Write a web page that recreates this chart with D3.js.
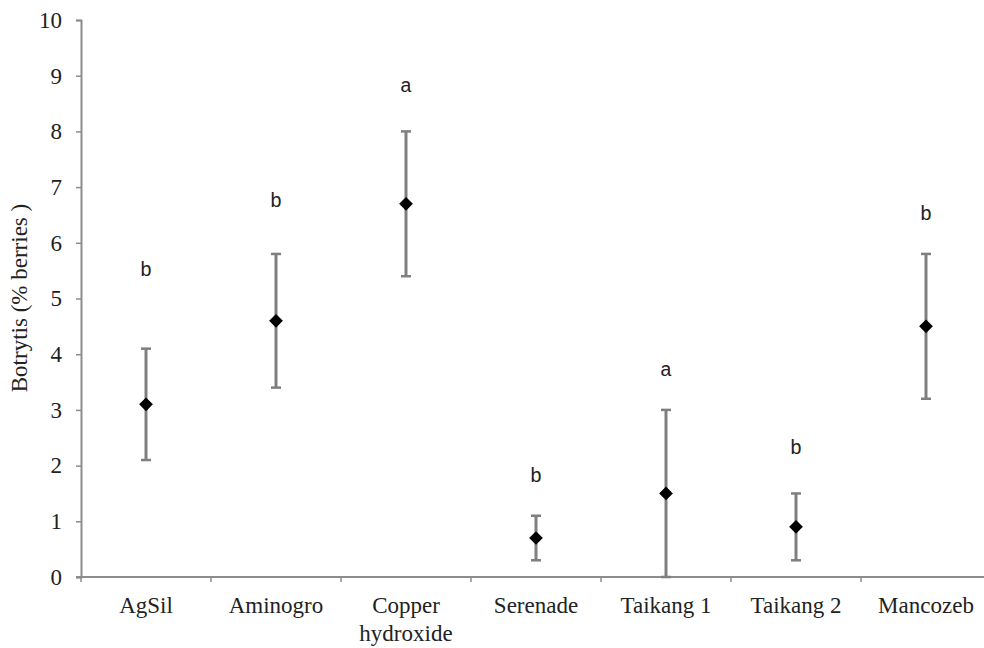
<!DOCTYPE html>
<html>
<head>
<meta charset="utf-8">
<script src="https://cdn.jsdelivr.net/npm/d3@7"></script>
<style>
  body { margin: 0; background: #fff; }
  svg text { font-family: "Liberation Serif", "Times New Roman", serif; fill: #222; }
</style>
</head>
<body>
<svg id="chart" width="984" height="648"></svg>
<script>
// treatments and their botrytis incidence (% berries)
var treatments = ["AgSil", "Aminogro", "Copper hydroxide", "Serenade", "Taikang 1", "Taikang 2", "Mancozeb"];
var means = [3.1, 4.6, 6.7, 0.7, 1.5, 0.9, 4.5];
var errors = [1.0, 1.2, 1.3, 0.4, 1.5, 0.6, 1.3];
var letters = ["b", "b", "a", "b", "a", "b", "b"];
var letterPos = [5.5, 6.75, 8.8, 1.8, 3.7, 2.3, 6.5];
var yTicks = [0, 1, 2, 3, 4, 5, 6, 7, 8, 9, 10];

var svg = d3.select("#chart");
var margin = {left: 81, top: 20, bottom: 577};
var bandW = 130;
var fs = 23;

var x = d3.scaleBand()
  .domain(treatments)
  .range([margin.left, margin.left + bandW * treatments.length])
  .padding(0);

var y = d3.scaleLinear()
  .domain([0, 10])
  .range([margin.bottom, margin.top]);

var axisColor = "#8c8c8c";

// y axis
var yAxis = svg.append("g")
  .attr("transform", "translate(" + margin.left + ",0)")
  .call(d3.axisLeft(y).tickValues(yTicks).tickSize(5).tickPadding(14).tickFormat(d3.format("d")));
yAxis.select(".domain").attr("stroke", axisColor).attr("stroke-width", 2);
yAxis.selectAll(".tick line").attr("stroke", axisColor).attr("stroke-width", 1.5);
yAxis.selectAll(".tick text")
  .attr("font-size", fs)
  .attr("fill", "#222")
  .style("font-family", "Liberation Serif");

// x axis line, runs to the edge
svg.append("line")
  .attr("x1", margin.left - 5).attr("x2", 984)
  .attr("y1", y(0)).attr("y2", y(0))
  .attr("stroke", axisColor).attr("stroke-width", 2);

// category tick marks at band boundaries
svg.selectAll(".xtick")
  .data(treatments)
  .enter().append("line")
  .attr("class", "xtick")
  .attr("x1", function (d) { return x(d); })
  .attr("x2", function (d) { return x(d); })
  .attr("y1", y(0)).attr("y2", y(0) + 5)
  .attr("stroke", axisColor).attr("stroke-width", 1.5);

// category labels (split only the two-word name)
var labels = svg.selectAll(".xlab")
  .data(treatments)
  .enter().append("text")
  .attr("class", "xlab")
  .attr("text-anchor", "middle")
  .attr("font-size", fs)
  .attr("x", function (d) { return x(d) + x.bandwidth() / 2; })
  .attr("y", 613);
labels.each(function (d) {
  var t = d3.select(this);
  var parts = d === "Copper hydroxide" ? ["Copper", "hydroxide"] : [d];
  parts.forEach(function (p, i) {
    t.append("tspan")
      .attr("x", x(d) + x.bandwidth() / 2)
      .attr("dy", i === 0 ? 0 : 28)
      .text(p);
  });
});

// y axis title
svg.append("text")
  .attr("transform", "translate(27,298) rotate(-90)")
  .attr("text-anchor", "middle")
  .attr("font-size", fs)
  .text("Botrytis (% berries )");

var errColor = "#7f7f7f";
var cx = function (i) { return x(treatments[i]) + x.bandwidth() / 2; };

var g = svg.append("g").attr("class", "points");

// error bars
g.selectAll(".err")
  .data(means)
  .enter().append("line")
  .attr("class", "err")
  .attr("x1", function (d, i) { return cx(i); })
  .attr("x2", function (d, i) { return cx(i); })
  .attr("y1", function (d, i) { return y(d - errors[i]); })
  .attr("y2", function (d, i) { return y(d + errors[i]); })
  .attr("stroke", errColor).attr("stroke-width", 3);

[-1, 1].forEach(function (s) {
  g.selectAll(".cap" + (s > 0 ? "hi" : "lo"))
    .data(means)
    .enter().append("line")
    .attr("x1", function (d, i) { return cx(i) - 5; })
    .attr("x2", function (d, i) { return cx(i) + 5; })
    .attr("y1", function (d, i) { return y(d + s * errors[i]); })
    .attr("y2", function (d, i) { return y(d + s * errors[i]); })
    .attr("stroke", errColor).attr("stroke-width", 2.5);
});

// diamond markers
g.selectAll(".pt")
  .data(means)
  .enter().append("path")
  .attr("class", "pt")
  .attr("d", d3.symbol().type(d3.symbolDiamond2).size(120))
  .attr("transform", function (d, i) { return "translate(" + cx(i) + "," + y(d) + ")"; })
  .attr("fill", "#000");

// significance letters
g.selectAll(".sig")
  .data(letters)
  .enter().append("text")
  .attr("class", "sig")
  .attr("text-anchor", "middle")
  .attr("font-size", 20)
  .attr("dominant-baseline", "central")
  .style("font-family", "Liberation Mono")
  .attr("x", function (d, i) { return cx(i); })
  .attr("y", function (d, i) { return y(letterPos[i]); })
  .text(function (d) { return d; });
</script>
</body>
</html>
